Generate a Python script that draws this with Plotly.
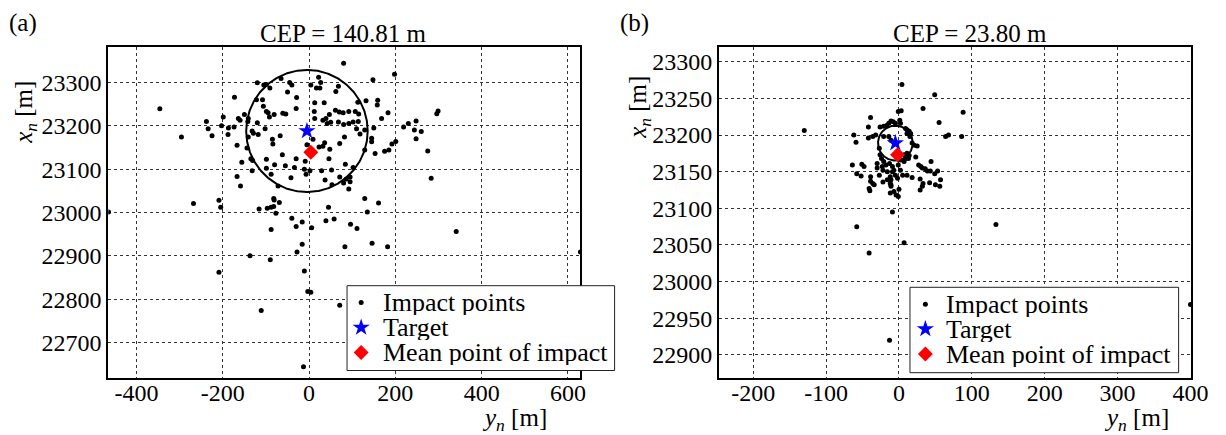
import numpy as np
import plotly.graph_objects as go

W, H = 1226, 435
# The photographed picture comes out slightly squeezed horizontally,
# so horizontal layout positions are pre-stretched a little.
SX = 1.0075

# ---------------- Panel (a): impact points ----------------
a_yn = [-346, -296, -238, -234, -225, -203, -199, -187, -188, -174, -173, -167, -164, -160, -150,
        -141, -142, -141, -144, -132, -129, -120, -118, -122, -120, -108, -106, -102, -105, -99,
        -91, -99, -95, -92, -81, -85, -84, -67, -65, -61, -54, -50, -45, -40, -62, -29, -30, -30,
        -99, -135,
        80, 198, 148, 22, 27, 4, 17, 25, 68, 62, 13, 35, 12, 13, 32, 39, 47, 42, 50, 61, 70, 68,
        79, 80, 92, 92, 102, 107, 115, 114, 113, 132, 159, 158, 183, 168, 110, 118, 129, 150, 82,
        71, 36, 32, 23, 9, 48, 46, 129, 145, 145, 153, 175, 185, 192, 201, 219, 230, 248, 244,
        260, 248, 275, 296, 299, -5,
        -131, -156, -99, -80, -55, -34, -132, -167, -159, -88, -42, -72, -268, -209, -205, -116,
        -97, -88, -82, -82, -81, -69, -77, -40, -30, -88, -137, -90, -28,
        84, 102, -9, -11, -7, 2, 29, 52, 37, 71, 53, 80, 86, 95, 95, 92, 283, 129, 161, 45, 135,
        -16, 39, 58, 6, 96, 111, 341, -16, 83, 146, 182,
        -209, -11, -3, 4, -111, 71, -13,
        -465, 629]
a_xn = [23239, 23174, 23210, 23193, 23177, 23200, 23220, 23195, 23180, 23197, 23266, 23155, 23217,
        23213, 23226, 23217, 23210, 23174, 23149, 23188, 23183, 23207, 23180, 23260, 23299, 23260,
        23245, 23193, 23294, 23295, 23287, 23233, 23230, 23220, 23226, 23169, 23158, 23177, 23309,
        23229, 23227, 23278, 23300, 23294, 23133, 23265, 23240, 23124, 23123, 23124,
        23344, 23319, 23306, 23312, 23300, 23294, 23287, 23287, 23291, 23279, 23253, 23253, 23233,
        23217, 23213, 23217, 23226, 23205, 23208, 23236, 23232, 23209, 23230, 23203, 23233, 23205,
        23209, 23233, 23227, 23210, 23254, 23258, 23259, 23248, 23230, 23217, 23193, 23181, 23190,
        23195, 23174, 23159, 23161, 23153, 23151, 23169, 23146, 23124, 23144, 23171, 23163, 23136,
        23141, 23144, 23158, 23164, 23197, 23205, 23211, 23190, 23187, 23170, 23142, 23228, 23234,
        23156,
        23120, 23116, 23102, 23110, 23108, 23104, 23096, 23083, 23061, 23088, 23080, 23061, 23021,
        23028, 23012, 23008, 23010, 23012, 23014, 23032, 23029, 23023, 22998, 22987, 22968, 22961,
        22900, 22891, 22909,
        23111, 23104, 23118, 23100, 23088, 23096, 23096, 23098, 23075, 23082, 23064, 23068, 23077,
        23082, 23071, 23054, 23079, 23032, 23022, 23012, 23001, 22978, 22981, 22985, 22965, 22973,
        22963, 22956, 22927, 22921, 22929, 22921,
        22862, 22865, 22818, 22816, 22774, 22786, 22644,
        23001, 22909]
a_target = (-5, 23188)
a_mpi = (4, 23139)
a_cep = 140.81

# ---------------- Panel (b): impact points ----------------
b_yn = [-130, 4, 49, 33, 88, 55, 64, 68, 86, -39, -42, -62, -59, -42, -9, -58, -41, 7, 133, -13, 400,
        -26, -21, -17, -11, -5, 1, -21, -14, -11, -27, -26, -24, -21, -18, -13, -9, -30, -64, -58,
        -51, -48, -52, -39, -36, -41, -40, -27, -22, -16, -12, -11, -7, -5, -2, -12, -11, -12, -4,
        -1, 2,
        -1, 3, 11, 16, 15, 21, 25, 11, 14, 13, 23, 7, 27, 30, 32, 36, 44, 39, 43, 49, 53, 11, 57,
        33, 29, 56, 9,
        0, 18, 29, 42,
        -14, 2, 11, 14, -36, -32, 18, 7, 9, -30, -23, -22, -9, 2, 5, -39, -34, -16, -11, -7, 32,
        -1, 50, -8]
b_xn = [23206, 23269, 23255, 23236, 23231, 23217, 23198, 23200, 23198, 23224, 23211, 23200, 23190,
        23196, 23095, 23075, 23039, 23053, 23078, 22920, 22969,
        23211, 23212, 23213, 23219, 23216, 23220, 23198, 23198, 23193, 23182, 23173, 23168, 23164,
        23159, 23161, 23157, 23161, 23159, 23147, 23160, 23157, 23144, 23137, 23134, 23127, 23124,
        23145, 23136, 23150, 23143, 23139, 23152, 23145, 23141, 23134, 23132, 23121, 23118, 23159,
        23166,
        23232, 23233, 23202, 23202, 23198, 23186, 23185, 23175, 23172, 23168, 23170, 23164, 23159,
        23157, 23155, 23154, 23164, 23151, 23151, 23147, 23151, 23145, 23139, 23134, 23125, 23130,
        23209,
        23126, 23142, 23140, 23135,
        23216, 23216, 23207, 23205, 23198, 23200, 23189, 23173, 23168, 23155, 23157, 23152, 23150,
        23152, 23145, 23143, 23132, 23139, 23130, 23123, 23130, 23116, 23132, 23218]
b_target = (-5, 23189)
b_mpi = (-2, 23173)
b_cep = 23.80

# ---------------- Axes / ticks ----------------
a_xticks = [-400, -200, 0, 200, 400, 600]
a_yticks = [22700, 22800, 22900, 23000, 23100, 23200, 23300]
b_xticks = [-200, -100, 0, 100, 200, 300, 400]
b_yticks = [22900, 22950, 23000, 23050, 23100, 23150, 23200, 23250, 23300]
a_xrange = [-465.5, 628.5]
a_yrange = [22619, 23381]
b_xrange = [-247, 400.8]
b_yrange = [22869, 23319.6]

titles = ["CEP = 140.81 m", "CEP = 23.80 m"]
panel_tags = ["(a)", "(b)"]
legend_labels = ["Impact points", "Target", "Mean point of impact"]

# layout geometry (target picture pixels)
A_BOX = (109.0, 584.0)
B_BOX = (723.7, 1198.8)
Y_BOX = (47.3, 377.7)

FONT = "Liberation Serif, Times New Roman, serif"
STAR = dict(symbol="star", color="blue", size=13, line=dict(width=0))
DIAM = dict(symbol="diamond", color="red", size=11.5, line=dict(width=0))
DOT = dict(color="black", size=5)

fig = go.Figure()


def add_panel(xa, ya, yn, xn, target, mpi, cep):
    fig.add_trace(go.Scatter(x=yn, y=xn, mode="markers", xaxis=xa, yaxis=ya,
                             marker=DOT, showlegend=False, hoverinfo="skip"))
    th = np.linspace(0, 2 * np.pi, 361)
    fig.add_trace(go.Scatter(x=target[0] + cep * np.cos(th), y=target[1] + cep * np.sin(th),
                             mode="lines", xaxis=xa, yaxis=ya, line=dict(color="black", width=2),
                             showlegend=False, hoverinfo="skip"))
    fig.add_trace(go.Scatter(x=[target[0]], y=[target[1]], mode="markers", xaxis=xa, yaxis=ya,
                             marker=STAR, showlegend=False, hoverinfo="skip"))
    fig.add_trace(go.Scatter(x=[mpi[0]], y=[mpi[1]], mode="markers", xaxis=xa, yaxis=ya,
                             marker=DIAM, showlegend=False, hoverinfo="skip"))


add_panel("x", "y", a_yn, a_xn, a_target, a_mpi, a_cep)
add_panel("x2", "y2", b_yn, b_xn, b_target, b_mpi, b_cep)

# ---- legends (drawn on a full-figure overlay axis in picture-pixel units) ----
LEG = [
    dict(box=(349.3, 618.6, 285.7, 370.5), mx=363.5, tx=383.0, rows=(302.5, 327.5, 352.5)),
    dict(box=(915.9, 1186.3, 287.3, 372.7), mx=931.4, tx=950.0, rows=(304.3, 329.0, 354.0)),
]
for L in LEG:
    x0, x1, y0, y1 = L["box"]
    fig.add_trace(go.Scatter(x=[x0, x1, x1, x0, x0], y=[y0, y0, y1, y1, y0], mode="lines",
                             fill="toself", fillcolor="white", line=dict(color="#222", width=1),
                             xaxis="x3", yaxis="y3", showlegend=False, hoverinfo="skip"))
    r = L["rows"]
    for mk, ry in zip([DOT, STAR, DIAM], r):
        fig.add_trace(go.Scatter(x=[L["mx"]], y=[ry], mode="markers", xaxis="x3", yaxis="y3",
                                 marker=mk, showlegend=False, hoverinfo="skip"))

annotations = []
for L in LEG:
    for lab, ry in zip(legend_labels, L["rows"]):
        annotations.append(dict(x=L["tx"], y=ry, text=lab, xanchor="left", size=26, height=25))

annotations += [
    dict(x=346, y=33.3, text=titles[0]),
    dict(x=976, y=33.3, text=titles[1]),
    dict(x=22.7, y=23.3, text=panel_tags[0]),
    dict(x=638.4, y=23.0, text=panel_tags[1]),
    dict(x=25, y=112, text="<i>x</i><sub><i>n</i></sub> [m]", textangle=-90),
    dict(x=643, y=107, text="<i>x</i><sub><i>n</i></sub> [m]", textangle=-90),
    dict(x=518, y=419, text="<i>y</i><sub><i>n</i></sub> [m]"),
    dict(x=1144, y=419, text="<i>y</i><sub><i>n</i></sub> [m]"),
]
for an in annotations:
    an.setdefault("xanchor", "center")
    fsize = an.pop("size", 25)
    an.update(xref="x3", yref="y3", showarrow=False, yanchor="middle",
              font=dict(family=FONT, size=fsize, color="black"))


def axis_common(tickvals, rng, domain, anchor, standoff):
    return dict(range=rng, domain=domain, anchor=anchor, tickmode="array", tickvals=tickvals,
                ticktext=[str(v) for v in tickvals], showgrid=True, gridcolor="#333", gridwidth=1,
                griddash="3px,3px", zeroline=False, showline=True, linecolor="black", linewidth=2,
                mirror=True, ticks="", ticklabelstandoff=standoff, ticklabeloverflow="allow",
                tickfont=dict(family=FONT, size=24, color="black"), fixedrange=True)


def xdom(box):
    return [box[0] * SX / W, min(1.0, box[1] * SX / W)]


ydom = [1 - Y_BOX[1] / H, 1 - Y_BOX[0] / H]
fig.update_layout(
    width=W, height=H, autosize=False, margin=dict(l=0, r=0, t=0, b=0),
    paper_bgcolor="white", plot_bgcolor="rgba(0,0,0,0)", showlegend=False,
    xaxis=axis_common(a_xticks, a_xrange, xdom(A_BOX), "y", -8),
    yaxis=axis_common(a_yticks, a_yrange, ydom, "x", 0),
    xaxis2=axis_common(b_xticks, b_xrange, xdom(B_BOX), "y2", -8),
    yaxis2=axis_common(b_yticks, b_yrange, ydom, "x2", 0),
    xaxis3=dict(range=[0, W / SX], domain=[0, 1], anchor="y3", visible=False, fixedrange=True),
    yaxis3=dict(range=[H, 0], domain=[0, 1], anchor="x3", visible=False, fixedrange=True),
    annotations=annotations,
)

fig.write_html("out.html",
               config={"responsive": False, "displayModeBar": False, "staticPlot": True},
               post_script="document.body.style.margin='0px';document.body.style.overflow='hidden';")
